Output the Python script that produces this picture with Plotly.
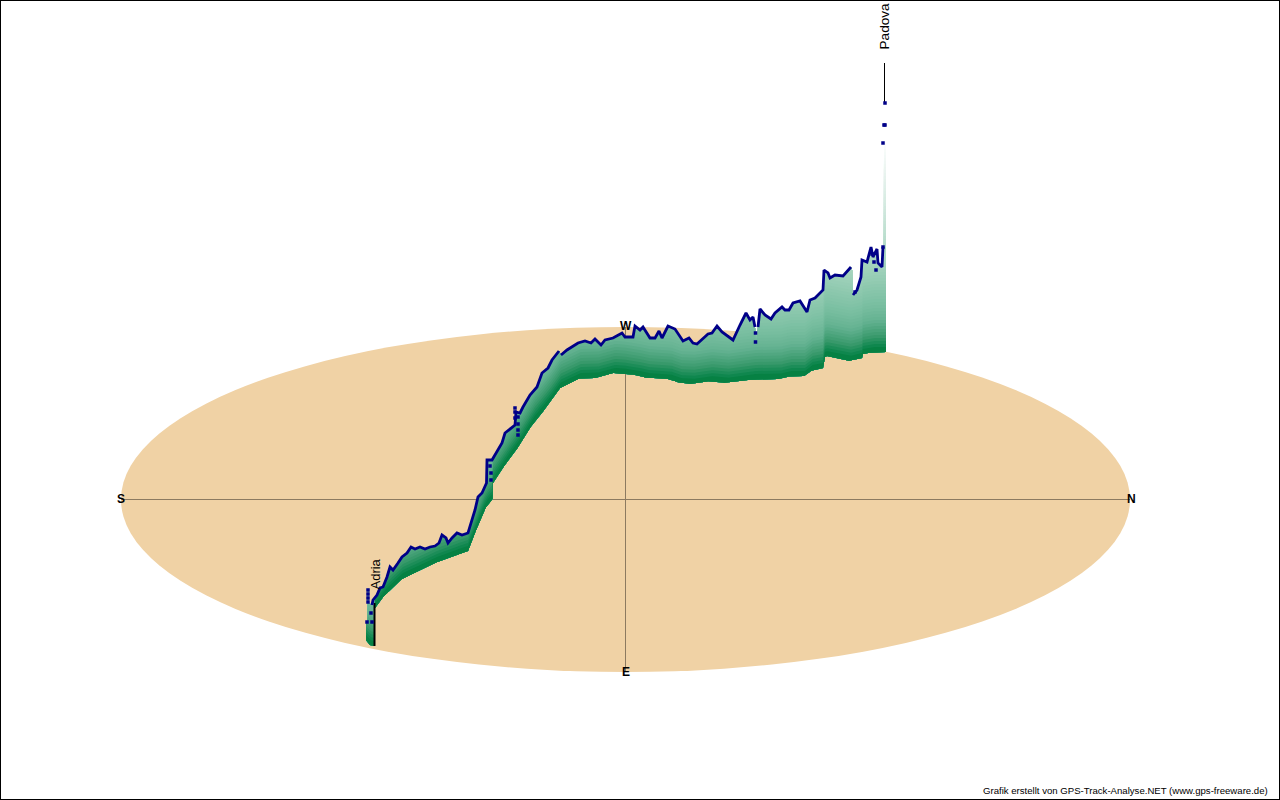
import numpy as np
import plotly.graph_objects as go

# Track (top of the profile)
track_x = [366,367,368,368.5,372,373,377,380,383,387,390,393,398,402,407,411,415,420,425,430,435,439,442,446,448,452,457,462,468,471,475,478,482,486.5,487,492,495,502,505,512,515,516,520,523,530,537,542,548,552,559,561,567,578,585,591,595,601,605,613,622,625,633,635,640,643,650,655,659,662,668,675,683,689,693,697,708,712,717,722,733,740,746,750,753,755,756,758,760,765,771,775,782,785,789,793,800,807,810,815,820,823,824,828,830,835,843,851,852.5,853,857,861,862,867,871,873,877,878,882,883]
track_y = [622,622,588,603,605,600,595,588,587,577,567,570,563,557,553,547,549,547,549,547,546,543,535,538,543,538,533,535,533,523,510,497,493,483,460,460,455,443,433,428,425,412,413,407,395,387,373,368,360,351,355,350,343,341,343,339,345,340,338,333,337,337,326,330,327,338,338,331,338,326,329,341,338,343,344,334,333,326,332,340,325,313,320,317,327,342,327,309,315,319,313,307,310,310,303,301,312,300,298,293,290,270,273,278,275,276,267,271,295,290,277,260,262,247,257,249,263,267,247]

# The drawn line leaves a gap after these track positions
line_gap_after = [559,755,756,851,852.5]

# Dots of the track that are not joined to the line
dot_x = [367,372,371,368,368,368,368,490,491,491,515,515,515,518,518,518,518,755.5,755.5,855,872,874,876,883,883,884,885,885]
dot_y = [622,622,613,590,594,598,602,466,473,480,408,412,418,417,424,430,435,333,342,292,254,262,270,247,143,125,125,103]

# Top edge of the spike at the end of the track
spike_x = [883.5,886]
spike_y = [100,100]

# Ground line below the profile
ground_x = [366,370,374.5,375,383,393,403,417,430,447,468,473,480,487,492.5,493,508,516,520,533,547,560,568,580,597,613,620,628,637,647,670,680,693,710,727,740,757,780,790,805,812,823,825,827,837,850,862,863,872,886]
ground_y = [640,645,646,608,597,587,578,572,565,558,551,538,520,505,499,483,460,450,445,423,407,388,384,378,378,373,373,374,375,378,379,383,384,381,383,381,379,379,376,376,370,368,357,356,358,361,358,354,352,352]

# Colour of the profile by height above ground
height_stops = [0,5,15,30,45,87,150,212]
red_stops = [0,15,60,100,120,165,215,255]
green_stops = [125,135,155,178,190,212,235,255]
blue_stops = [60,78,110,145,160,190,226,255]

# Ground disc and compass
disc_x = [121,1130]
disc_y = [327,672]
compass_labels = ["S","N","W","E"]
compass_x = [121,1131,625.5,625.5]
compass_y = [499,499,326,672]

# Leader lines and place names
place_labels = ["Adria","Padova"]
place_x = [375,884]
place_y = [574.5,26.5]
place_sizes = [13,13.6]
leader_x = [[374.5,374.5],[884.5,884.5]]
leader_y = [[603,646],[63,104]]
leader_widths = [2,1]

credit = "Grafik erstellt von GPS-Track-Analyse.NET (www.gps-freeware.de)"

fig = go.Figure()

cx = (disc_x[0]+disc_x[1])/2
cy = (disc_y[0]+disc_y[1])/2
shapes = [
    dict(type="circle", xref="x", yref="y", x0=disc_x[0], x1=disc_x[1], y0=disc_y[0], y1=disc_y[1],
         fillcolor="#F0D2A5", line_width=0, layer="below"),
    dict(type="line", xref="x", yref="y", x0=disc_x[0], x1=disc_x[1], y0=cy, y1=cy,
         line=dict(color="#8C7A60", width=1), layer="below"),
    dict(type="line", xref="x", yref="y", x0=cx, x1=cx, y0=disc_y[0], y1=disc_y[1],
         line=dict(color="#8C7A60", width=1), layer="below"),
    dict(type="rect", xref="paper", yref="paper", x0=0, x1=1, y0=0, y1=1,
         line=dict(color="#000000", width=2), fillcolor="rgba(0,0,0,0)"),
]

# Colour bands, painted from the tallest down
top_x = np.array(track_x + spike_x, dtype=float)
top_y = np.array(track_y + spike_y, dtype=float)
gx = np.array(ground_x, dtype=float)
gy = np.array(ground_y, dtype=float)
xs = np.unique(np.concatenate([top_x, gx, np.arange(366, 887)]))
edge_top = np.interp(xs, top_x, top_y)
edge_ground = np.interp(xs, gx, gy)
step = 3
for h in range(212, -1, -step):
    upper = np.maximum(edge_top, edge_ground - h - step)
    r = np.interp(h, height_stops, red_stops)
    g = np.interp(h, height_stops, green_stops)
    b = np.interp(h, height_stops, blue_stops)
    fig.add_trace(go.Scatter(
        x=np.concatenate([xs, xs[::-1]]), y=np.concatenate([upper, edge_ground[::-1]]),
        mode="lines", fill="toself", fillcolor=f"rgb({r:.0f},{g:.0f},{b:.0f})",
        line=dict(width=0), hoverinfo="skip", showlegend=False))

for lx, ly, lw in zip(leader_x, leader_y, leader_widths):
    fig.add_trace(go.Scatter(x=lx, y=ly, mode="lines", line=dict(color="#000000", width=lw),
                             hoverinfo="skip", showlegend=False))

# Track line with its gaps
line_x, line_y = [], []
for x, y in list(zip(track_x, track_y))[4:]:
    line_x.append(x)
    line_y.append(y)
    if x in line_gap_after:
        line_x.append(None)
        line_y.append(None)
fig.add_trace(go.Scatter(x=line_x, y=line_y, mode="lines", connectgaps=False,
                         line=dict(color="#000088", width=2.8), hoverinfo="skip", showlegend=False))
fig.add_trace(go.Scatter(x=dot_x, y=dot_y, mode="markers",
                         marker=dict(color="#000088", size=3.5, symbol="square"),
                         hoverinfo="skip", showlegend=False))

annotations = []
for t, x, y in zip(compass_labels, compass_x, compass_y):
    annotations.append(dict(x=x, y=y, text=f"<b>{t}</b>", showarrow=False, xref="x", yref="y",
                            font=dict(family="Liberation Sans", size=12, color="#000000")))
for t, x, y, s in zip(place_labels, place_x, place_y, place_sizes):
    annotations.append(dict(x=x, y=y, text=t, showarrow=False, textangle=-90, xref="x", yref="y",
                            font=dict(family="Liberation Sans", size=s, color="#000000")))
annotations.append(dict(x=1270, y=790, text=credit, showarrow=False, xanchor="right", xref="x", yref="y",
                        font=dict(family="Liberation Sans", size=9.6, color="#000000")))

fig.update_layout(
    width=1280, height=800, margin=dict(l=0, r=0, t=0, b=0),
    paper_bgcolor="#FFFFFF", plot_bgcolor="#FFFFFF", showlegend=False,
    shapes=shapes, annotations=annotations,
    xaxis=dict(range=[0,1280], visible=False, fixedrange=True),
    yaxis=dict(range=[800,0], visible=False, fixedrange=True),
)
fig.write_html("out.html", config=dict(displayModeBar=False),
               post_script="document.body.style.margin='0';document.documentElement.style.overflow='hidden';")
